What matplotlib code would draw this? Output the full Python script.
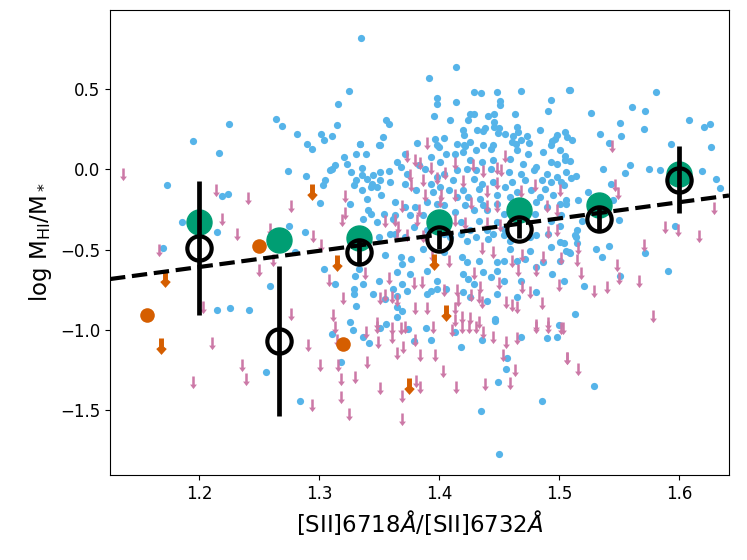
import numpy as np
import matplotlib
matplotlib.use("Agg")
import matplotlib.pyplot as plt
from matplotlib.path import Path

# HI detections (x = [SII] ratio, y = log MHI/M*)
detections = np.array([
    # upper part
    (1.335, 0.82), (1.414, 0.64), (1.392, 0.567), (1.325, 0.486), (1.316, 0.41), (1.315, 0.277),
    (1.311, 0.21), (1.356, 0.31), (1.358, 0.285), (1.353, 0.20), (1.334, 0.156), (1.351, 0.154),
    (1.398, 0.446), (1.398, 0.406), (1.414, 0.419), (1.396, 0.335), (1.409, 0.31), (1.429, 0.48),
    (1.435, 0.477), (1.448, 0.483), (1.468, 0.49), (1.451, 0.425), (1.451, 0.40), (1.426, 0.345),
    (1.429, 0.345), (1.424, 0.31), (1.441, 0.33), (1.446, 0.345), (1.446, 0.296), (1.446, 0.264),
    (1.45, 0.26), (1.420, 0.244), (1.421, 0.217), (1.432, 0.248), (1.438, 0.26), (1.437, 0.24),
    (1.449, 0.227), (1.455, 0.223), (1.463, 0.345), (1.465, 0.264), (1.466, 0.233), (1.462, 0.21),
    (1.473, 0.206), (1.475, 0.165), (1.461, 0.17), (1.464, 0.16), (1.491, 0.367), (1.493, 0.433),
    (1.508, 0.496), (1.494, 0.177), (1.497, 0.188), (1.507, 0.2), (1.382, 0.167), (1.397, 0.19),
    (1.404, 0.194), (1.398, 0.15), (1.421, 0.154), (1.422, 0.144), (1.445, 0.154),
    # centre left
    (1.334, 0.156), (1.350, 0.152), (1.339, 0.098), (1.331, 0.094), (1.321, 0.077), (1.323, 0.036),
    (1.313, 0.025), (1.311, 0.004), (1.336, 0.011), (1.327, -0.016), (1.345, -0.037), (1.351, -0.016),
    (1.358, -0.010), (1.336, -0.037), (1.331, -0.069), (1.340, -0.058), (1.344, -0.089), (1.351, -0.069),
    (1.359, -0.079), (1.329, -0.100), (1.336, -0.131), (1.343, -0.110), (1.348, -0.110), (1.352, -0.162),
    (1.340, -0.183), (1.326, -0.214), (1.363, -0.204), (1.372, -0.089), (1.365, 0.046), (1.372, 0.098),
    (1.400, 0.140), (1.406, 0.098), (1.393, 0.077), (1.401, 0.046), (1.383, 0.025), (1.388, 0.004),
    (1.373, -0.027), (1.404, -0.027), (1.398, -0.048), (1.393, -0.089), (1.381, -0.131), (1.395, -0.141),
    (1.401, -0.110), (1.408, -0.131), (1.372, -0.235), (1.380, -0.235), (1.376, -0.287), (1.390, -0.204),
    (1.398, -0.214), (1.404, -0.225), (1.387, -0.287), (1.341, -0.256), (1.337, -0.308), (1.354, -0.277),
    (1.348, -0.329), (1.362, -0.308), (1.379, -0.360), (1.390, -0.381), (1.395, -0.350), (1.404, -0.402),
    (1.350, -0.423), (1.359, -0.402), (1.372, -0.423), (1.343, -0.277), (1.368, 0.015), (1.363, -0.287),
    # centre right
    (1.484, 0.244), (1.498, 0.213), (1.505, 0.234), (1.415, 0.161), (1.426, 0.171), (1.437, 0.150),
    (1.468, 0.186), (1.493, 0.150), (1.413, 0.098), (1.420, 0.109), (1.431, 0.119), (1.443, 0.129),
    (1.465, 0.119), (1.474, 0.094), (1.487, 0.109), (1.501, 0.119), (1.426, 0.056), (1.436, 0.046),
    (1.445, 0.056), (1.459, 0.067), (1.470, 0.036), (1.481, 0.015), (1.493, 0.046), (1.498, 0.036),
    (1.505, 0.056), (1.415, -0.006), (1.423, 0.004), (1.431, -0.006), (1.443, 0.004), (1.458, -0.016),
    (1.468, -0.027), (1.479, -0.006), (1.490, -0.027), (1.498, -0.048), (1.506, -0.016), (1.412, -0.069),
    (1.429, -0.058), (1.436, -0.089), (1.445, -0.079), (1.461, -0.079), (1.472, -0.069), (1.486, -0.069),
    (1.493, -0.079), (1.420, -0.131), (1.433, -0.121), (1.455, -0.110), (1.465, -0.141), (1.477, -0.131),
    (1.488, -0.121), (1.504, -0.100), (1.415, -0.173), (1.424, -0.173), (1.434, -0.183), (1.448, -0.162),
    (1.459, -0.173), (1.484, -0.173), (1.495, -0.162), (1.422, -0.225), (1.437, -0.225), (1.448, -0.214),
    (1.481, -0.204), (1.490, -0.235), (1.501, -0.214), (1.506, -0.194), (1.413, -0.266), (1.429, -0.256),
    (1.440, -0.256), (1.454, -0.277), (1.480, -0.277), (1.502, -0.287), (1.418, -0.329), (1.433, -0.319),
    (1.448, -0.329), (1.493, -0.319), (1.501, -0.350), (1.426, -0.381), (1.440, -0.381), (1.454, -0.371),
    # centre lower
    (1.363, -0.406), (1.409, -0.423), (1.418, -0.402), (1.423, -0.444), (1.431, -0.423), (1.441, -0.433),
    (1.445, -0.402), (1.454, -0.412), (1.459, -0.444), (1.476, -0.423), (1.481, -0.412), (1.491, -0.402),
    (1.493, -0.485), (1.501, -0.454), (1.508, -0.516), (1.355, -0.537), (1.368, -0.548), (1.369, -0.589),
    (1.377, -0.558), (1.387, -0.496), (1.404, -0.516), (1.419, -0.548), (1.423, -0.579), (1.433, -0.569),
    (1.448, -0.579), (1.454, -0.569), (1.459, -0.496), (1.465, -0.569), (1.472, -0.558), (1.476, -0.506),
    (1.487, -0.579), (1.501, -0.569), (1.506, -0.506), (1.333, -0.621), (1.330, -0.662), (1.313, -0.714),
    (1.337, -0.714), (1.350, -0.694), (1.365, -0.641), (1.369, -0.714), (1.376, -0.652), (1.390, -0.631),
    (1.398, -0.694), (1.420, -0.652), (1.424, -0.683), (1.429, -0.714), (1.437, -0.641), (1.443, -0.673),
    (1.448, -0.631), (1.454, -0.694), (1.468, -0.694), (1.481, -0.610), (1.494, -0.652), (1.504, -0.694),
    (1.329, -0.746), (1.329, -0.777), (1.345, -0.777), (1.355, -0.808), (1.362, -0.746), (1.365, -0.787),
    (1.373, -0.756), (1.390, -0.777), (1.393, -0.756), (1.398, -0.746), (1.406, -0.746), (1.420, -0.766),
    (1.426, -0.798), (1.440, -0.819), (1.448, -0.777), (1.465, -0.798), (1.481, -0.766), (1.331, -0.850),
    (1.365, -0.860), (1.369, -0.881), (1.365, -0.923), (1.447, -0.933),
    # bottom centre
    (1.326, -0.954), (1.328, -1.002), (1.337, -1.044), (1.342, -1.084), (1.356, -0.965), (1.351, -0.990),
    (1.374, -0.998), (1.379, -1.069), (1.389, -0.990), (1.393, -1.065), (1.413, -1.013), (1.418, -1.106),
    (1.436, -1.063), (1.447, -0.944), (1.457, -1.177), (1.456, -1.246), (1.449, -1.325), (1.490, -1.052),
    (1.498, -1.044), (1.500, -0.969), (1.468, -1.044), (1.435, -1.506), (1.486, -1.444), (1.450, -1.777),
    (1.318, -1.204), (1.311, -1.027),
    # left
    (1.225, 0.281), (1.195, 0.175), (1.217, 0.102), (1.264, 0.316), (1.269, 0.269), (1.282, 0.223),
    (1.290, 0.160), (1.294, 0.129), (1.302, 0.223), (1.304, 0.185), (1.309, -0.002), (1.274, -0.013),
    (1.289, -0.044), (1.305, -0.069), (1.303, -0.100), (1.301, -0.211), (1.173, -0.098), (1.219, -0.169),
    (1.224, -0.152), (1.186, -0.329), (1.215, -0.388), (1.275, -0.350), (1.288, -0.388), (1.170, -0.492),
    (1.280, -0.517), (1.304, -0.621), (1.259, -0.729), (1.215, -0.877), (1.226, -0.866), (1.242, -0.877),
    (1.256, -1.262), (1.284, -1.444),
    # right
    (1.509, 0.494), (1.581, 0.483), (1.527, 0.354), (1.561, 0.389), (1.572, 0.364), (1.551, 0.291),
    (1.608, 0.310), (1.621, 0.264), (1.626, 0.281), (1.534, 0.219), (1.552, 0.210), (1.571, 0.252),
    (1.511, 0.185), (1.542, 0.164), (1.593, 0.160), (1.627, 0.137), (1.505, 0.081), (1.509, 0.050),
    (1.537, 0.004), (1.559, 0.025), (1.555, -0.023), (1.575, 0.000), (1.584, -0.006), (1.619, -0.013),
    (1.631, -0.063), (1.634, -0.115), (1.510, -0.054), (1.514, -0.042), (1.502, -0.079), (1.524, -0.142),
    (1.543, -0.094), (1.516, -0.194), (1.506, -0.219), (1.545, -0.190), (1.550, -0.315), (1.519, -0.319),
    (1.515, -0.381), (1.597, -0.350), (1.514, -0.423), (1.513, -0.412), (1.515, -0.460), (1.504, -0.460),
    (1.509, -0.521), (1.531, -0.496), (1.542, -0.475), (1.536, -0.548), (1.572, -0.521), (1.591, -0.631),
    (1.551, -0.666), (1.521, -0.725), (1.513, -0.902), (1.529, -1.350),
])

# HI non-detections (upper limits)
upper_limits = np.array([
    (1.390, 0.202), (1.373, 0.119), (1.380, 0.098), (1.384, 0.077), (1.393, 0.046), (1.405, 0.015),
    (1.376, 0.004), (1.387, -0.027), (1.398, -0.016), (1.377, -0.058), (1.388, -0.121), (1.402, -0.121),
    (1.322, -0.131), (1.322, -0.235), (1.319, -0.277), (1.369, -0.194), (1.383, -0.214), (1.355, -0.287),
    (1.363, -0.277), (1.366, -0.319), (1.382, -0.277), (1.398, -0.298), (1.373, -0.371), (1.365, -0.371),
    (1.387, -0.381), (1.401, -0.162),
    (1.413, 0.077), (1.428, 0.067), (1.437, 0.025), (1.448, 0.046), (1.455, 0.119), (1.452, 0.036),
    (1.420, -0.037), (1.448, -0.048), (1.440, -0.100), (1.413, -0.121), (1.427, -0.173), (1.440, -0.194),
    (1.448, -0.194), (1.468, -0.100), (1.480, -0.058), (1.501, -0.089), (1.490, -0.194), (1.498, -0.214),
    (1.413, -0.277), (1.422, -0.298), (1.440, -0.298), (1.451, -0.308), (1.491, -0.350), (1.498, -0.339),
    (1.338, -0.610), (1.358, -0.641), (1.355, -0.746), (1.361, -0.756), (1.320, -0.766), (1.312, -0.871),
    (1.351, -0.766), (1.365, -0.777), (1.379, -0.673), (1.386, -0.662), (1.380, -0.829), (1.390, -0.829),
    (1.394, -0.496), (1.404, -0.714), (1.415, -0.714), (1.416, -0.777), (1.413, -0.829), (1.413, -0.902),
    (1.419, -0.881), (1.429, -0.610), (1.427, -0.746), (1.434, -0.694), (1.433, -0.756), (1.436, -0.787),
    (1.426, -0.891), (1.433, -0.912), (1.450, -0.673), (1.456, -0.787), (1.461, -0.808), (1.465, -0.819),
    (1.469, -0.496), (1.466, -0.589), (1.469, -0.694), (1.476, -0.725), (1.481, -0.589), (1.486, -0.798),
    (1.487, -0.506), (1.500, -0.683), (1.491, -0.923), (1.481, -0.933), (1.348, -0.923), (1.408, -0.537),
    (1.436, -0.450), (1.445, -0.480), (1.461, -0.537),
    (1.313, -0.944), (1.339, -0.975), (1.348, -0.944), (1.361, -0.954), (1.368, -0.954), (1.372, -0.944),
    (1.395, -0.944), (1.411, -0.965), (1.419, -0.944), (1.425, -0.944), (1.431, -0.944), (1.437, -0.975),
    (1.445, -1.006), (1.456, -1.038), (1.465, -1.017), (1.481, -0.944), (1.491, -0.944), (1.502, -0.954),
    (1.349, -1.038), (1.361, -1.006), (1.380, -1.027), (1.370, -1.073), (1.365, -1.106), (1.384, -1.121),
    (1.397, -1.121), (1.340, -1.163), (1.315, -1.027), (1.316, -1.184), (1.318, -1.267), (1.330, -1.256),
    (1.351, -1.329), (1.369, -1.377), (1.318, -1.381), (1.325, -1.490), (1.369, -1.517), (1.403, -1.221),
    (1.414, -1.319), (1.438, -1.302), (1.459, -1.294), (1.463, -1.215), (1.453, -1.121), (1.381, -1.281),
    (1.384, -1.319), (1.507, -1.142),
    (1.137, 0.010), (1.214, -0.090), (1.241, -0.138), (1.277, -0.194), (1.219, -0.273), (1.232, -0.367),
    (1.259, -0.336), (1.167, -0.465), (1.295, -0.377), (1.302, -0.434), (1.262, -0.527), (1.250, -0.590),
    (1.308, -0.652), (1.203, -0.823), (1.277, -0.866), (1.211, -1.044), (1.291, -1.058), (1.236, -1.183),
    (1.239, -1.267), (1.195, -1.287), (1.301, -1.183), (1.294, -1.429),
    (1.544, 0.181), (1.547, -0.059), (1.549, -0.111), (1.629, -0.204), (1.588, -0.319), (1.599, -0.340),
    (1.617, -0.381), (1.516, -0.454), (1.515, -0.527), (1.518, -0.606), (1.502, -0.516), (1.548, -0.558),
    (1.550, -0.641), (1.567, -0.656), (1.571, -0.433), (1.529, -0.719), (1.540, -0.698), (1.578, -0.875),
    (1.503, -0.954), (1.507, -1.141), (1.516, -1.208),
])

# second sample
orange_det_x = [1.157, 1.250, 1.320]
orange_det_y = [-0.908, -0.479, -1.086]
orange_lim_x = [1.294, 1.172, 1.168, 1.315, 1.396, 1.406, 1.375]
orange_lim_y = [-0.090, -0.636, -1.054, -0.537, -0.527, -0.843, -1.298]

# binned values
bin_x = [1.2, 1.2667, 1.3333, 1.4, 1.4667, 1.5333, 1.6]
bin_det = [-0.33, -0.44, -0.425, -0.33, -0.256, -0.225, -0.027]
bin_all = [-0.49, -1.07, -0.515, -0.435, -0.37, -0.31, -0.065]
bin_err = [0.42, 0.47, 0.07, 0.06, 0.06, 0.07, 0.21]

fit_slope = 1.01
fit_intercept = -1.821

XLIM = (1.1258, 1.6417)
YLIM = (-1.906, 0.994)


def arrow_marker(shaft, head_w, head_start, neck=None):
    # downward arrow, top of the shaft sits on the data point
    if neck is None:
        neck = head_start
    verts = [(-shaft, 0), (shaft, 0), (shaft, -neck), (head_w, -head_start),
             (0, -1), (-head_w, -head_start), (-shaft, -neck), (-shaft, 0)]
    codes = [Path.MOVETO] + [Path.LINETO] * 6 + [Path.CLOSEPOLY]
    return Path(verts, codes)


small_arrow = arrow_marker(0.1, 0.27, 0.64)
big_arrow = arrow_marker(0.15, 0.32, 0.64, neck=0.5)

fig = plt.figure(figsize=(7.47, 5.6), dpi=100)
ax = fig.add_axes([110 / 747, 85 / 560, 619 / 747, 465 / 560])

ax.scatter(detections[:, 0], detections[:, 1], s=27, color="#56B4E9", linewidths=0, zorder=2)
ax.scatter(upper_limits[:, 0], upper_limits[:, 1], s=330, marker=small_arrow,
           color="#CC79A7", linewidths=0, zorder=3)
ax.scatter(orange_det_x, orange_det_y, s=110, color="#D55E00", linewidths=0, zorder=4)
ax.scatter(orange_lim_x, orange_lim_y, s=560, marker=big_arrow,
           color="#D55E00", linewidths=0, zorder=4)

ax.plot(bin_x, bin_det, "o", ms=18, color="#009E73", zorder=5)

xx = np.array(XLIM)
ax.plot(xx, fit_slope * xx + fit_intercept, "k--", lw=3, zorder=6)

ax.errorbar(bin_x, bin_all, yerr=bin_err, fmt="o", ms=17.5, mfc="none", mec="k", mew=3,
            ecolor="k", elinewidth=3.4, capsize=0, zorder=7)

ax.set_xlim(XLIM)
ax.set_ylim(YLIM)
ax.set_xticks([1.2, 1.3, 1.4, 1.5, 1.6])
ax.set_yticks([-1.5, -1.0, -0.5, 0.0, 0.5])
ax.tick_params(labelsize=12)
ax.set_xlabel(r"[SII]6718$\AA$/[SII]6732$\AA$", fontsize=16.5)
ax.set_ylabel(r"log M$_{\rm HI}$/M$_*$", fontsize=16.5)

fig.savefig("out.png", dpi=100)
